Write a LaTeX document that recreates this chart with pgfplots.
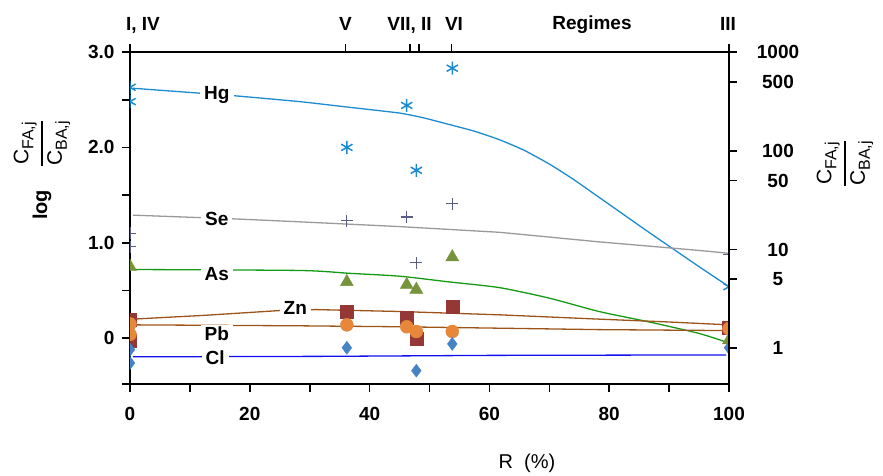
\documentclass[border=0pt]{standalone}
\usepackage{pgfplots}
\pgfplotsset{compat=1.18}
\usepackage{amsmath}
\usepackage{fontspec}
\setmainfont{Liberation Sans}

\definecolor{hgc}{HTML}{1B8CD0}
\definecolor{sel}{HTML}{9A9A9A}
\definecolor{sem}{HTML}{5C5C88}
\definecolor{asl}{HTML}{159A15}
\definecolor{asm}{HTML}{77933C}
\definecolor{brl}{HTML}{9C5418}
\definecolor{znm}{HTML}{953735}
\definecolor{pbm}{HTML}{E6873A}
\definecolor{cll}{HTML}{1010F0}
\definecolor{clm}{HTML}{4682C4}

\newcommand{\tf}{\fontsize{19}{22}\selectfont}
\newcommand{\Cfrac}[2]{$\genfrac{}{}{1.5pt}{0}{\text{\fontsize{21}{24}\selectfont C\raisebox{-5pt}{\fontsize{16}{18}\selectfont #1}}}{\text{\fontsize{21}{24}\selectfont C\raisebox{-5pt}{\fontsize{16}{18}\selectfont #2}}}$}

\begin{document}
\begin{tikzpicture}
\path[use as bounding box] (-130pt,-91pt) rectangle (753pt,384pt);
\begin{axis}[
  at={(0pt,0pt)}, anchor=south west,
  scale only axis, width=599pt, height=332pt,
  xmin=0, xmax=100, ymin=-0.48, ymax=3.0,
  axis x line*=bottom, axis y line*=left,
  axis line style={line width=1.6pt},
  every tick/.style={line width=1.6pt, black},
  tick align=outside,
  major tick length=8pt, minor tick length=8pt,
  xtick={0,20,...,100}, minor xtick={10,30,50,70,90},
  ytick={0,1,2,3}, yticklabels={0,1.0,2.0,3.0},
  minor ytick={0.5,1.5,2.5},
  extra y ticks={-0.48}, extra y tick labels={},
  ticklabel style={font=\tf\bfseries},
  xticklabel style={yshift=-12pt},
  yticklabel style={xshift=-4pt},
  /pgf/number format/assume math mode=true,
  clip marker paths=true,
]
% fitted lines
\addplot[hgc, line width=1.3pt, smooth, tension=0.3] coordinates {(0.5,2.62) (11.3,2.57) (17.7,2.54) (28.3,2.48) (36.7,2.42) (45,2.36) (49,2.31) (53.3,2.24) (57.5,2.17) (61.7,2.08) (65.8,1.97) (70,1.826) (74,1.666) (78.3,1.477) (86.7,1.107) (95,0.75) (100,0.54)};
\addplot[sel, line width=1.3pt] coordinates {(0.5,1.29) (17.7,1.25) (28.3,1.22) (45,1.17) (61.7,1.11) (70,1.06) (78.3,1.01) (86.7,0.965) (95,0.92) (100,0.89)};
\addplot[asl, line width=1.3pt, smooth, tension=0.4] coordinates {(0.5,0.72) (28.3,0.71) (36.7,0.68) (45,0.65) (53.3,0.59) (61.7,0.53) (70,0.42) (78.3,0.28) (86.7,0.17) (95,0.05) (100,-0.05)};
\addplot[brl, line width=1.3pt] coordinates {(0.5,0.20) (12.5,0.24) (25,0.29) (31,0.30) (45,0.28) (61.7,0.245) (78.3,0.20) (90,0.17) (100,0.14)};
\addplot[brl, line width=1.3pt] coordinates {(0.5,0.14) (28.3,0.13) (45,0.12) (61.7,0.105) (78.3,0.09) (100,0.08)};
\addplot[cll, line width=1.3pt] coordinates {(0.5,-0.195) (33,-0.19) (60,-0.18) (99.5,-0.175)};
% measured points
\addplot[only marks, mark=asterisk, mark size=6.5pt, hgc, mark options={line width=1.5pt}] coordinates {(0,2.63) (0,2.48) (36.2,2.00) (46.2,2.44) (47.8,1.76) (53.8,2.83) (100,0.54)};
\addplot[only marks, mark=+, mark size=6pt, sem, mark options={line width=1.2pt}] coordinates {(0,1.10) (0,0.96) (36.2,1.23) (46.2,1.27) (47.8,0.79) (53.8,1.41) (100,0.88)};
\addplot[only marks, mark=triangle*, mark size=7.5pt, asm, mark options={draw=asm, fill=asm}] coordinates {(0,0.75) (36.2,0.59) (46.2,0.56) (47.8,0.51) (53.8,0.85) (100,-0.02)};
\addplot[only marks, mark=square*, mark size=6.5pt, znm, mark options={draw=znm, fill=znm}] coordinates {(0,0.19) (0,-0.03) (36.2,0.28) (46.2,0.21) (47.8,-0.01) (53.8,0.33) (100,0.11)};
\addplot[only marks, mark=*, mark size=6.5pt, pbm, mark options={draw=pbm, fill=pbm}] coordinates {(0,0.15) (0,0.04) (36.2,0.14) (46.2,0.12) (47.8,0.07) (53.8,0.07) (100,0.10)};
\addplot[only marks, mark=diamond*, mark size=6.5pt, clm, mark options={draw=clm, fill=clm}] coordinates {(0,-0.12) (0,-0.26) (36.2,-0.10) (47.8,-0.34) (53.8,-0.06) (100,-0.10)};
% curve labels
\begin{scope}[every node/.style={fill=white, inner xsep=4pt, inner ysep=1pt, font=\tf\bfseries, anchor=base}]
\node at (axis cs:14.5,2.50) {Hg};
\node at (axis cs:14.5,1.18) {Se};
\node at (axis cs:14.5,0.61) {As};
\node at (axis cs:27.6,0.245) {Zn};
\node at (axis cs:14.5,-0.02) {Pb};
\node at (axis cs:14.2,-0.28) {Cl};
\end{scope}
\end{axis}
\begin{axis}[
  at={(0pt,0pt)}, anchor=south west,
  scale only axis, width=599pt, height=332pt,
  xmin=0, xmax=100, ymode=log, ymin=0.435, ymax=1000,
  axis x line*=top, axis y line*=right,
  axis line style={line width=1.6pt},
  every tick/.style={line width=1.6pt, black},
  tick align=outside,
  major tick length=8pt,
  xminorticks=false, yminorticks=false,
  xtick={0,36,46.7,48.2,53.7,100}, xticklabels={},
  ytick={1,5,10,50,100,500,1000},
  yticklabels={1,5,10,50,100,500,1000},
  yticklabel style={font=\tf\bfseries, anchor=center, xshift=41pt},
]
\addplot[draw=none] coordinates {(50,1)};
\end{axis}
% top regime labels
\begin{scope}[every node/.style={font=\tf\bfseries, anchor=base, inner sep=0pt}]
\node at (13pt,354pt) {I, IV};
\node at (215.5pt,354pt) {V};
\node at (279.5pt,354pt) {VII, II};
\node at (324pt,354pt) {VI};
\node at (462pt,355pt) {Regimes};
\node at (598pt,354pt) {III};
\end{scope}
\node[font=\fontsize{20}{24}\selectfont, anchor=base] at (397pt,-84pt) {R~~(\%)};
\node[rotate=90, inner sep=0pt] at (-88pt,240.5pt) {\Cfrac{FA,j}{BA,j}};
\node[rotate=90, inner sep=0pt, font=\fontsize{20}{24}\selectfont\bfseries] at (-88pt,179pt) {log};
\node[rotate=90, inner sep=0pt] at (715pt,220.5pt) {\Cfrac{FA,j}{BA,j}};
\end{tikzpicture}
\end{document}
